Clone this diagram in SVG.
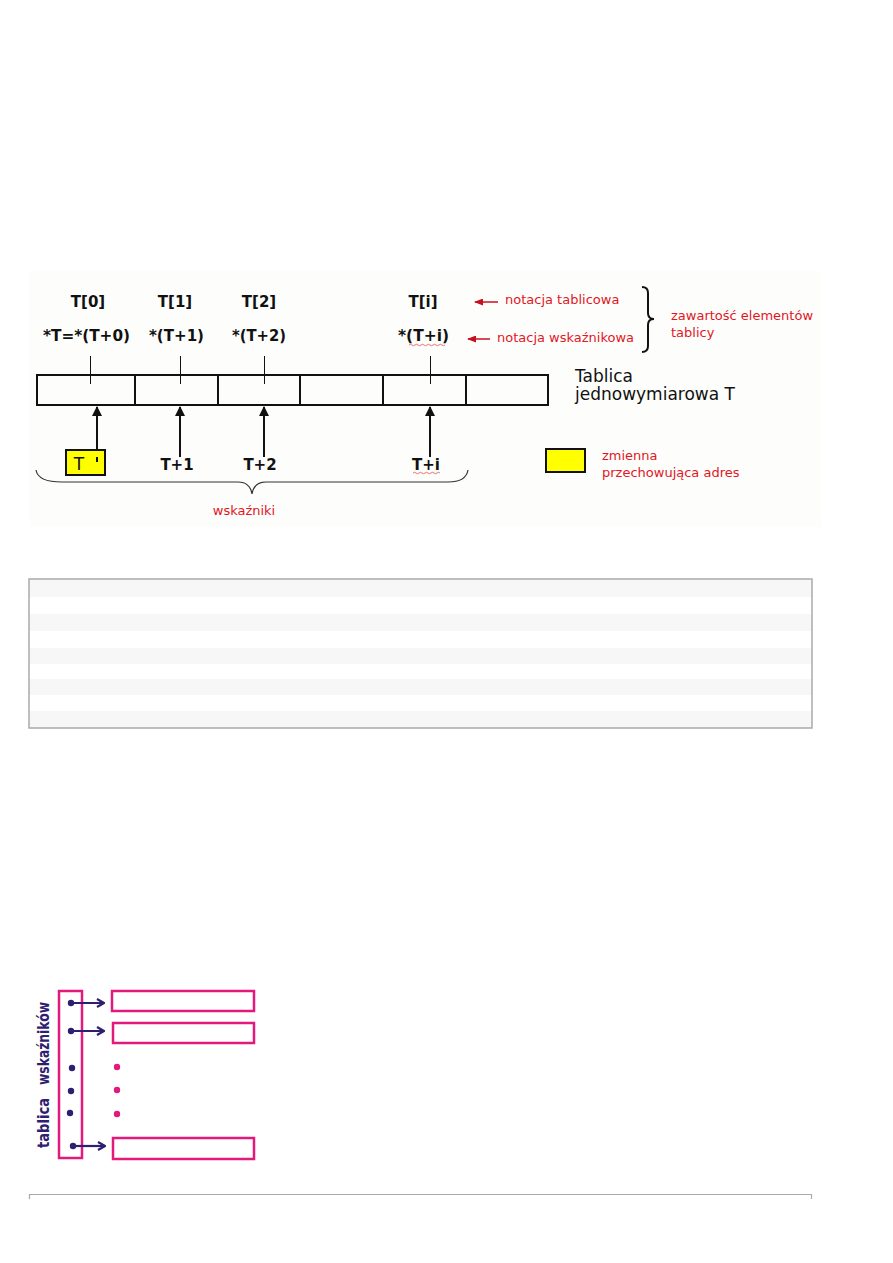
<svg xmlns="http://www.w3.org/2000/svg" width="893" height="1263" viewBox="0 0 893 1263">
<style>
.bold{font-family:"DejaVu Sans",Verdana,sans-serif;font-weight:bold;font-size:15px;fill:#111}
.red{font-family:"DejaVu Sans",Verdana,sans-serif;font-size:13px;fill:#e2161f}
.blk{font-family:"DejaVu Sans",Verdana,sans-serif;font-size:17px;fill:#111}
.thin{stroke:#111;stroke-width:1;fill:none}
.ptr{stroke:#111;stroke-width:2;fill:none}
.navy{fill:#2e2070}
.pinkS{fill:none;stroke:#e3197d;stroke-width:2.5}
.vt{font-family:"DejaVu Sans",Verdana,sans-serif;font-weight:bold;font-size:16px;fill:#2e2070}
</style>
<defs>
<marker id="ah" markerWidth="10" markerHeight="10" refX="9" refY="5" orient="auto" markerUnits="userSpaceOnUse">
<path d="M0,0 L10,5 L0,10 Z" fill="#111"/>
</marker>
<marker id="ahr" markerWidth="9" markerHeight="7" refX="8" refY="3.5" orient="auto" markerUnits="userSpaceOnUse">
<path d="M0,0 L9,3.5 L0,7 Z" fill="#c8101c"/>
</marker>
<marker id="ahn" markerWidth="10" markerHeight="10" refX="9" refY="5" orient="auto" markerUnits="userSpaceOnUse">
<path d="M2,1 L9,5 L2,9" fill="none" stroke="#2e2070" stroke-width="2.2"/>
</marker>
</defs>
<rect width="893" height="1263" fill="#ffffff"/>

<!-- top panel -->
<rect x="29" y="271" width="792" height="256" fill="#fdfefc"/>

<g id="array">
<rect x="37" y="375" width="511" height="30" fill="none" stroke="#111" stroke-width="2"/>
<line x1="135" y1="375" x2="135" y2="405" stroke="#111" stroke-width="2"/>
<line x1="218" y1="375" x2="218" y2="405" stroke="#111" stroke-width="2"/>
<line x1="300" y1="375" x2="300" y2="405" stroke="#111" stroke-width="2"/>
<line x1="383" y1="375" x2="383" y2="405" stroke="#111" stroke-width="2"/>
<line x1="466" y1="375" x2="466" y2="405" stroke="#111" stroke-width="2"/>
</g>

<g id="labels-top">
<text class="bold" x="88" y="307" text-anchor="middle">T[0]</text>
<text class="bold" x="175" y="307" text-anchor="middle">T[1]</text>
<text class="bold" x="259" y="307" text-anchor="middle">T[2]</text>
<text class="bold" x="423" y="307" text-anchor="middle">T[i]</text>
<text class="bold" x="43" y="341" textLength="87" lengthAdjust="spacingAndGlyphs">*T=*(T+0)</text>
<text class="bold" x="149" y="341" textLength="55" lengthAdjust="spacingAndGlyphs">*(T+1)</text>
<text class="bold" x="232" y="341" textLength="54" lengthAdjust="spacingAndGlyphs">*(T+2)</text>
<text class="bold" x="398" y="341" textLength="51" lengthAdjust="spacingAndGlyphs">*(T+i)</text>
<path d="M409,345 q1.5,-1.5 3,0 t3,0 t3,0 t3,0 t3,0 t3,0 t3,0 t3,0 t3,0 t3,0 t3,0 t3,0" fill="none" stroke="#e05050" stroke-width="0.8"/>
</g>

<g id="connectors">
<line class="thin" x1="90.5" y1="356" x2="90.5" y2="384"/>
<line class="thin" x1="180.5" y1="356" x2="180.5" y2="384"/>
<line class="thin" x1="264.5" y1="356" x2="264.5" y2="384"/>
<line class="thin" x1="430.5" y1="356" x2="430.5" y2="384"/>
<line class="ptr" x1="97" y1="457" x2="97" y2="407" marker-end="url(#ah)"/>
<line class="ptr" x1="180" y1="457" x2="180" y2="407" marker-end="url(#ah)"/>
<line class="ptr" x1="264" y1="457" x2="264" y2="407" marker-end="url(#ah)"/>
<line class="ptr" x1="430" y1="457" x2="430" y2="407" marker-end="url(#ah)"/>
<line x1="498" y1="302" x2="475" y2="302" stroke="#c8101c" stroke-width="1.5" marker-end="url(#ahr)"/>
<line x1="490" y1="339" x2="468" y2="339" stroke="#c8101c" stroke-width="1.5" marker-end="url(#ahr)"/>
</g>

<g id="notation-labels">
<text class="red" x="505" y="304">notacja tablicowa</text>
<text class="red" x="497" y="342">notacja wskaźnikowa</text>
<path d="M642,287 Q648,287 648,293 L648,313 Q648,319 654,319 Q648,319 648,325 L648,346 Q648,352 642,352" fill="none" stroke="#111" stroke-width="2"/>
<text class="red" x="671" y="320">zawartość elementów</text>
<text class="red" x="671" y="337">tablicy</text>
</g>

<g id="array-title">
<text class="blk" x="575" y="382">Tablica</text>
<text class="blk" x="575" y="400">jednowymiarowa T</text>
</g>

<g id="pointer-T">
<rect x="66" y="450" width="39" height="25" fill="#ffff00" stroke="#111" stroke-width="2"/>
<text class="blk" x="79" y="470" text-anchor="middle">T</text>
<line x1="97" y1="457" x2="97" y2="462" stroke="#111" stroke-width="2"/>
</g>

<g id="pointer-labels">
<text class="bold" x="177" y="470" text-anchor="middle">T+1</text>
<text class="bold" x="260" y="470" text-anchor="middle">T+2</text>
<text class="bold" x="426" y="470" text-anchor="middle">T+i</text>
<path d="M413,473 q1.5,-1.5 3,0 t3,0 t3,0 t3,0 t3,0 t3,0 t3,0 t3,0 t3,0" fill="none" stroke="#e05050" stroke-width="0.8"/>
</g>

<g id="brace-bottom">
<path d="M36,470 Q38,482 62,482 L238,482 Q250,482 252,494 Q254,482 266,482 L448,482 Q466,482 468,470" fill="none" stroke="#333" stroke-width="1.2"/>
<text class="red" x="244" y="515" text-anchor="middle">wskaźniki</text>
</g>

<g id="legend">
<rect x="546" y="449" width="39" height="23" fill="#ffff00" stroke="#111" stroke-width="2"/>
<text class="red" x="602" y="460">zmienna</text>
<text class="red" x="602" y="477">przechowująca adres</text>
</g>

<!-- striped table -->
<g id="table">
<rect x="29" y="579" width="783" height="149" fill="#ffffff"/>
<rect x="29" y="579" width="783" height="18" fill="#f7f7f7"/>
<rect x="29" y="614" width="783" height="17" fill="#f7f7f7"/>
<rect x="29" y="648" width="783" height="16" fill="#f7f7f7"/>
<rect x="29" y="679" width="783" height="16" fill="#f7f7f7"/>
<rect x="29" y="711" width="783" height="17" fill="#f7f7f7"/>
<rect x="29" y="579" width="783" height="149" fill="none" stroke="#aaaaaa" stroke-width="1.5"/>
</g>

<!-- pointer array diagram -->
<g id="ptr-array">
<rect class="pinkS" x="59" y="991" width="23" height="167"/>
<text class="vt" x="49" y="1148" transform="rotate(-90 49 1148)" textLength="50" lengthAdjust="spacingAndGlyphs">tablica</text>
<text class="vt" x="49" y="1085" transform="rotate(-90 49 1085)" textLength="83" lengthAdjust="spacingAndGlyphs">wskaźników</text>
</g>
<g id="row1"><rect class="pinkS" x="112" y="991" width="142" height="20"/></g>
<g id="row2"><rect class="pinkS" x="113" y="1023" width="141" height="20"/></g>
<g id="row3"><rect class="pinkS" x="113" y="1138" width="141" height="21"/></g>
<g id="ptr-connectors">
<circle class="navy" cx="71" cy="1003" r="3.2"/>
<line x1="71" y1="1003" x2="104" y2="1003" stroke="#2e2070" stroke-width="2.2" marker-end="url(#ahn)"/>
<circle class="navy" cx="71" cy="1031" r="3.2"/>
<line x1="71" y1="1031" x2="104" y2="1031" stroke="#2e2070" stroke-width="2.2" marker-end="url(#ahn)"/>
<circle class="navy" cx="73" cy="1146" r="3.2"/>
<line x1="73" y1="1146" x2="105" y2="1146" stroke="#2e2070" stroke-width="2.2" marker-end="url(#ahn)"/>
<circle class="navy" cx="72" cy="1068" r="3.2"/>
<circle class="navy" cx="71" cy="1091" r="3.2"/>
<circle class="navy" cx="70" cy="1113" r="3.2"/>
<circle cx="117" cy="1067" r="3.2" fill="#e3197d"/>
<circle cx="117" cy="1090" r="3.2" fill="#e3197d"/>
<circle cx="117" cy="1114" r="3.2" fill="#e3197d"/>
</g>

<g id="bottom-rule">
<path d="M29.5,1199 L29.5,1194.5 L811.5,1194.5 L811.5,1199" fill="none" stroke="#aaaaaa" stroke-width="1.2"/>
</g>
</svg>
